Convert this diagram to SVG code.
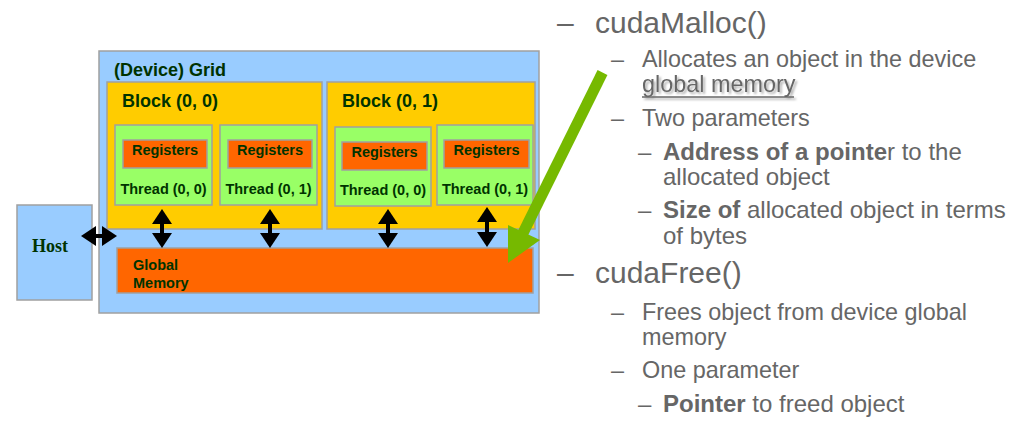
<svg xmlns="http://www.w3.org/2000/svg" width="1017" height="426" viewBox="0 0 1017 426">
<defs>
<style>
.box{stroke:#a0a0a0;stroke-width:1.5}
.grid{fill:#99ccff}
.block{fill:#ffcc00}
.thread{fill:#99ff66}
.reg{fill:#ff6600}
.lbl{font-family:"Liberation Sans",Arial,sans-serif;font-weight:bold;fill:#003300}
.t18{font-size:18px}
.t14{font-size:14.5px}
.host{font-family:"Liberation Serif","Times New Roman",serif;font-weight:bold;font-size:18px;fill:#003300}
.txt{font-family:"Liberation Sans",Arial,sans-serif;fill:#666666}
.l1{font-size:30px}
.l2{font-size:23.4px}
.l3{font-size:24px}
.b{font-weight:bold}
.arr{stroke:#000;stroke-width:4;fill:none;marker-start:url(#ah);marker-end:url(#ah)}
</style>
<marker id="ah" viewBox="0 0 15 20" markerWidth="15" markerHeight="20" refX="3" refY="10" orient="auto-start-reverse" markerUnits="userSpaceOnUse">
<path d="M0,0 L15,10 L0,20 z" fill="#000"/>
</marker>
<filter id="shadow" x="-10%" y="-30%" width="120%" height="170%">
<feGaussianBlur in="SourceAlpha" stdDeviation="1"/>
<feOffset dx="2" dy="2" result="o"/>
<feFlood flood-color="#b0b0b0"/>
<feComposite in2="o" operator="in" result="s"/>
<feMerge><feMergeNode in="s"/><feMergeNode in="SourceGraphic"/></feMerge>
</filter>
</defs>
<rect width="1017" height="426" fill="#ffffff"/>

<g id="host">
<rect class="box grid" x="17" y="205" width="75" height="95"/>
<text class="host" x="32" y="252">Host</text>
</g>

<g id="grid">
<rect class="box grid" x="99" y="51" width="440" height="262"/>
<text class="lbl t18" x="114" y="76">(Device) Grid</text>
</g>

<g id="block00">
<rect class="box block" x="107" y="82" width="215" height="147"/>
<text class="lbl t18" x="122" y="107">Block (0, 0)</text>
</g>
<g id="block01">
<rect class="box block" x="327" y="82" width="208" height="147"/>
<text class="lbl t18" x="342" y="107">Block (0, 1)</text>
</g>

<g id="b0t0">
<rect class="box thread" x="115" y="125" width="97" height="80"/>
<rect class="box reg" x="123" y="140" width="84" height="28"/>
<text class="lbl t14" x="165" y="155" text-anchor="middle">Registers</text>
<text class="lbl t14" x="163.5" y="194" text-anchor="middle">Thread (0, 0)</text>
</g>
<g id="b0t1">
<rect class="box thread" x="220" y="125" width="97" height="80"/>
<rect class="box reg" x="228" y="140" width="84" height="28"/>
<text class="lbl t14" x="270" y="155" text-anchor="middle">Registers</text>
<text class="lbl t14" x="268.5" y="194" text-anchor="middle">Thread (0, 1)</text>
</g>
<g id="b1t0">
<rect class="box thread" x="335" y="127" width="96" height="79"/>
<rect class="box reg" x="342" y="142" width="85" height="28"/>
<text class="lbl t14" x="384.5" y="157" text-anchor="middle">Registers</text>
<text class="lbl t14" x="383" y="195" text-anchor="middle">Thread (0, 0)</text>
</g>
<g id="b1t1">
<rect class="box thread" x="437" y="125" width="96" height="80"/>
<rect class="box reg" x="444" y="140" width="85" height="28"/>
<text class="lbl t14" x="486.5" y="155" text-anchor="middle">Registers</text>
<text class="lbl t14" x="485" y="194" text-anchor="middle">Thread (0, 1)</text>
</g>

<g id="globalmem">
<rect class="box reg" x="117" y="248" width="416" height="45"/>
<text class="lbl t14" x="133" y="270">Global</text>
<text class="lbl t14" x="133" y="288">Memory</text>
</g>

<g id="connectors">
<line class="arr" x1="93" y1="236" x2="105" y2="236"/>
<line class="arr" x1="162" y1="221" x2="162" y2="236"/>
<line class="arr" x1="270" y1="221" x2="270" y2="236"/>
<line class="arr" x1="388" y1="221" x2="388" y2="236"/>
<line class="arr" x1="487" y1="219" x2="487" y2="235"/>
<line x1="602.5" y1="72.5" x2="523" y2="233" stroke="#76b900" stroke-width="11"/>
<polygon points="508,263 508,225 540,240" fill="#76b900"/>
</g>

<g id="text">
<text class="txt l1" x="557" y="33">–</text>
<text class="txt l1" x="595" y="33">cudaMalloc()</text>
<text class="txt l2" x="611" y="67">–</text>
<text class="txt l2" x="642" y="67">Allocates an object in the device</text>
<g filter="url(#shadow)">
<text class="txt l2" x="642" y="92">global memory</text>
<line x1="642" y1="97" x2="794" y2="97" stroke="#666" stroke-width="1.5"/>
</g>
<text class="txt l2" x="611" y="126">–</text>
<text class="txt l2" x="642" y="126">Two parameters</text>
<text class="txt l3" x="638" y="160">–</text>
<text class="txt l3" x="663" y="160"><tspan class="b">Address of a pointe</tspan>r to the</text>
<text class="txt l3" x="663" y="185">allocated object</text>
<text class="txt l3" x="638" y="218">–</text>
<text class="txt l3" x="663" y="218"><tspan class="b">Size of</tspan> allocated object in terms</text>
<text class="txt l3" x="663" y="244">of bytes</text>
<text class="txt l1" x="557" y="283">–</text>
<text class="txt l1" x="595" y="283">cudaFree()</text>
<text class="txt l2" x="611" y="320">–</text>
<text class="txt l2" x="642" y="320">Frees object from device global</text>
<text class="txt l2" x="642" y="345">memory</text>
<text class="txt l2" x="611" y="378">–</text>
<text class="txt l2" x="642" y="378">One parameter</text>
<text class="txt l3" x="638" y="412">–</text>
<text class="txt l3" x="663" y="412"><tspan class="b">Pointer</tspan> to freed object</text>
</g>
</svg>
